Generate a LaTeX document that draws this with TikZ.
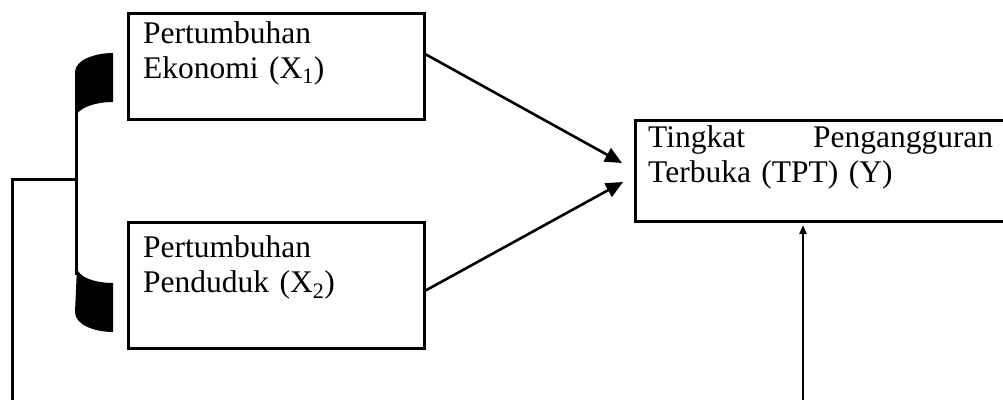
\documentclass[tikz,border=0pt]{standalone}
\usepackage{fontspec}
\setmainfont{Liberation Serif}
\usetikzlibrary{arrows.meta}
\begin{document}
\begin{tikzpicture}[x=1pt,y=-1pt,
  box/.style={draw, line width=2.8pt, inner sep=0pt, anchor=north west},
  lbl/.style={anchor=base west, inner sep=0pt, font=\fontsize{31.5}{35}\selectfont, align=left},
  conn/.style={line width=3pt},
  bigarrow/.style={line width=2.6pt, -{Triangle[length=17pt,width=15pt]}},
  smallarrow/.style={line width=2.4pt, -{Triangle[length=9pt,width=7pt]}}]
\clip (0,0) rectangle (1003,399);
% boxes
\node[box, minimum width=296pt, minimum height=106pt] (b1) at (127,12) {};
\node[box, minimum width=296pt, minimum height=126pt] (b2) at (127,221) {};
\node[box, minimum width=380pt, minimum height=101pt] (bY) at (634,119) {};
% labels
\node[lbl, text width=270pt] (t1) at (143,43) {Pertumbuhan\\Ekonomi (X\textsubscript{1})};
\node[lbl, text width=270pt] (t2) at (143,257) {Pertumbuhan\\Penduduk (X\textsubscript{2})};
\node[lbl, text width=345pt] (tY) at (648,147) {Tingkat\hfill Pengangguran\\Terbuka (TPT) (Y)};
% arrow ends
\coordinate (e1) at (622,163);
\coordinate (e2) at (623,182);
\coordinate (bot) at (803,405);
\coordinate (top) at (803,225);
\draw[bigarrow] ([yshift=12pt]b1.east) -- (e1);
\draw[bigarrow] ([yshift=-5pt]b2.east) -- (e2);
\draw[smallarrow] (bot) -- (top);
% brace
\fill (113,53) .. controls (95,53) and (75,60) .. (75,72) -- (75,118)
  .. controls (77,108) and (95,102) .. (113,102) -- cycle;
\fill (77,267) .. controls (77,277) and (95,283) .. (113,283) -- (113,332)
  .. controls (95,332) and (75,325) .. (75,312) -- cycle;
\draw[line width=2.4pt] (76.5,110) -- (76.5,275);
\coordinate (bm) at (76.5,179);
\coordinate (lc) at (12,179);
\coordinate (lb) at (12,405);
\draw[conn] (bm) -- (lc) -- (lb);
\end{tikzpicture}
\end{document}
